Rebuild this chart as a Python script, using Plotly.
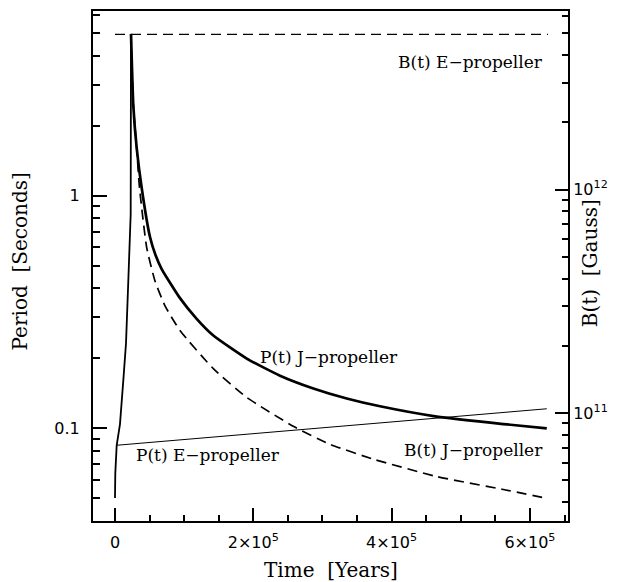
import plotly.graph_objects as go

# ---- data ----
# thin initial rise (Period, seconds)
t_rise = [0, 430, 2460, 7230, 12000, 15900, 19240, 22700, 23140]
p_rise = [0.050, 0.0638, 0.0843, 0.104, 0.160, 0.231, 0.429, 0.832, 4.96]

# P(t) J-propeller (thick)
t_pj = [23140, 26460, 31380, 38610, 50610, 58570, 67530, 94000, 118100, 142200, 190500,
        238600, 286800, 335100, 383200, 465200, 561500, 624300]
p_pj = [4.96, 2.45, 1.60, 1.078, 0.663, 0.555, 0.483, 0.362, 0.295, 0.250, 0.199,
        0.168, 0.148, 0.134, 0.124, 0.112, 0.104, 0.0997]

# P(t) E-propeller (thin)
t_pe = [2460, 94000, 383200, 624300]
p_pe = [0.0843, 0.0889, 0.105, 0.121]

# B(t) J-propeller (dashed, Gauss)
t_bj = [23140, 26460, 31380, 35430, 45840, 57840, 72300, 94000, 142200,
        190500, 257800, 310900, 373500, 465200, 561500, 624300]
b_bj = [4.96e12, 2.39e12, 1.53e12, 1.02e12, 5.50e11, 3.90e11, 3.02e11, 2.34e11, 1.58e11,
        1.175e11, 8.73e10, 7.25e10, 6.22e10, 5.20e10, 4.55e10, 4.155e10]

# B(t) E-propeller (dashed, constant)
t_be = [0, 626000]
b_be = [4.95e12, 4.95e12]

x_ticks = [0, 2e5, 4e5, 6e5]
x_ticktext = ["0", "2×10<sup>5</sup>", "4×10<sup>5</sup>", "6×10<sup>5</sup>"]
x_minor = [5e4, 1e5, 1.5e5, 2.5e5, 3e5, 3.5e5, 4.5e5, 5e5, 5.5e5, 6.5e5]

y_ticks = [0.1, 1]
y_ticktext = ["0.1", "1"]
y_minor = [0.05, 0.06, 0.07, 0.08, 0.09, 0.2, 0.3, 0.4, 0.5, 0.6, 0.7, 0.8, 0.9,
           2, 3, 4, 5, 6]

y2_ticks = [1e11, 1e12]
y2_ticktext = ["10<sup>11</sup>", "10<sup>12</sup>"]
y2_minor = [4e10, 5e10, 6e10, 7e10, 8e10, 9e10,
            2e11, 3e11, 4e11, 5e11, 6e11, 7e11, 8e11, 9e11,
            2e12, 3e12, 4e12, 5e12, 6e12]

fig = go.Figure()
fig.add_trace(go.Scatter(x=t_rise, y=p_rise, mode="lines",
                         line=dict(color="black", width=1.8), yaxis="y"))
fig.add_trace(go.Scatter(x=t_pj, y=p_pj, mode="lines",
                         line=dict(color="black", width=2.7, shape="spline", smoothing=0.5), yaxis="y"))
fig.add_trace(go.Scatter(x=t_pe, y=p_pe, mode="lines",
                         line=dict(color="black", width=1), yaxis="y"))
fig.add_trace(go.Scatter(x=t_bj, y=b_bj, mode="lines",
                         line=dict(color="black", width=1.7, dash="10px,6px", shape="spline", smoothing=0.5),
                         yaxis="y2"))
fig.add_trace(go.Scatter(x=t_be, y=b_be, mode="lines",
                         line=dict(color="black", width=1.3, dash="10px,6px"), yaxis="y2"))

tickfont = dict(family="DejaVu Sans", size=16, color="black")
serif = "DejaVu Serif"

fig.update_layout(
    width=619, height=582,
    margin=dict(l=93, r=51, t=9, b=61),
    paper_bgcolor="white", plot_bgcolor="white",
    showlegend=False,
    xaxis=dict(range=[-31800, 655000], showline=True, linewidth=2, linecolor="black",
               mirror=True, ticks="inside", ticklen=13, tickwidth=1.5, tickcolor="black",
               tickmode="array", tickvals=x_ticks, ticktext=x_ticktext, tickfont=tickfont,
               showgrid=False, zeroline=False, ticklabelstandoff=6,
               minor=dict(ticks="inside", ticklen=6, tickwidth=1.5, tickcolor="black",
                          tickmode="array", tickvals=x_minor, showgrid=False)),
    yaxis=dict(type="log", range=[-1.400, 0.794], showline=True, linewidth=2, linecolor="black",
               ticks="inside", ticklen=14, tickwidth=1.5, tickcolor="black",
               tickmode="array", tickvals=y_ticks, ticktext=y_ticktext, tickfont=tickfont,
               showgrid=False, zeroline=False, ticklabelstandoff=8,
               minor=dict(ticks="inside", ticklen=7, tickwidth=1.5, tickcolor="black",
                          tickmode="array", tickvals=y_minor, showgrid=False)),
    yaxis2=dict(type="log", range=[10.517, 12.799], overlaying="y", side="right",
                showline=True, linewidth=2, linecolor="black",
                ticks="inside", ticklen=13, tickwidth=1.5, tickcolor="black",
                tickmode="array", tickvals=y2_ticks, ticktext=y2_ticktext, tickfont=tickfont,
                showgrid=False, zeroline=False,
                minor=dict(ticks="inside", ticklen=6, tickwidth=1.5, tickcolor="black",
                           tickmode="array", tickvals=y2_minor, showgrid=False)),
)

def ann(text, x, y, xanchor="center", size=17, angle=0):
    fig.add_annotation(text=text, x=x, y=y, xref="paper", yref="paper",
                       xanchor=xanchor, yanchor="middle", showarrow=False,
                       textangle=angle, font=dict(family=serif, size=size, color="black"))

ann("B(t) E−propeller", 0.951, 0.900, xanchor="right")
ann("P(t) J−propeller", 0.347, 0.321, xanchor="left")
ann("P(t) E−propeller", 0.086, 0.129, xanchor="left")
ann("B(t) J−propeller", 0.951, 0.1387, xanchor="right")

ann("Period  [Seconds]", -0.1547, 0.508, size=20, angle=-90)
ann("Time  [Years]", 0.501, -0.0957, size=20)
ann("B(t)  [Gauss]", 1.048, 0.505, size=20, angle=-90)

fig.write_html("out.html")
